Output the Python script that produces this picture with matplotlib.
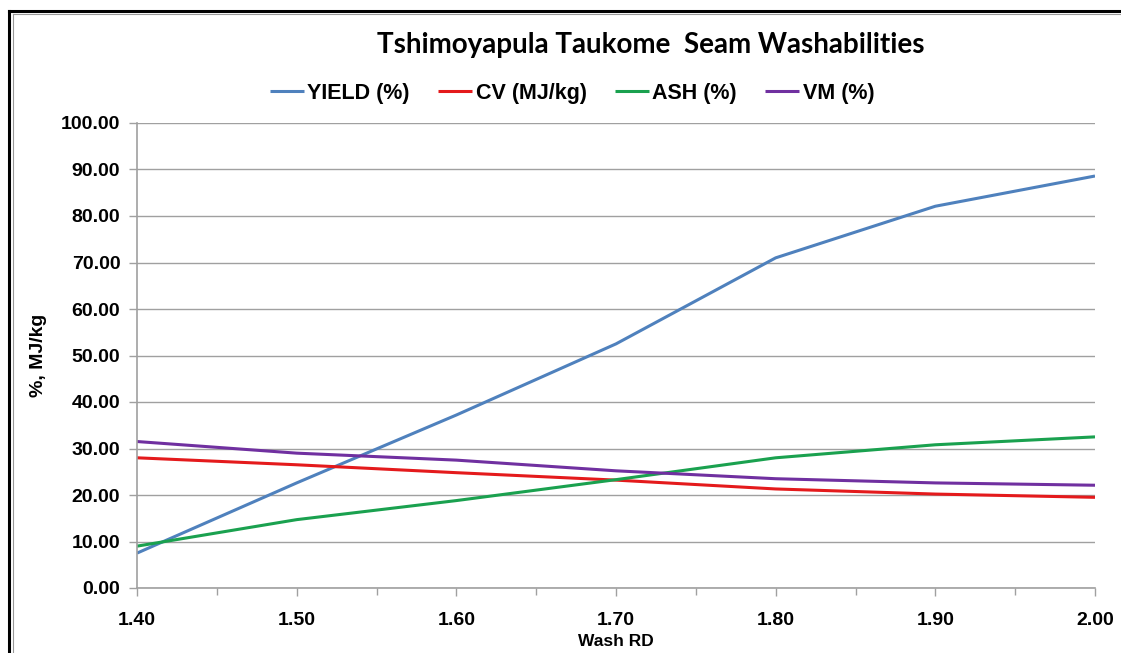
import matplotlib
matplotlib.use("Agg")
import matplotlib.pyplot as plt
from matplotlib.lines import Line2D
from matplotlib.ticker import MultipleLocator, FormatStrFormatter

wash_rd = [1.40, 1.50, 1.60, 1.70, 1.80, 1.90, 2.00]
yield_pct = [7.5, 22.6, 37.2, 52.5, 71.0, 82.1, 88.6]
cv_mjkg = [28.0, 26.5, 24.8, 23.2, 21.3, 20.2, 19.5]
ash_pct = [9.0, 14.7, 18.8, 23.3, 28.0, 30.8, 32.5]
vm_pct = [31.5, 29.0, 27.5, 25.2, 23.5, 22.6, 22.1]

series = [
    ("YIELD (%)", yield_pct, "#4f81bd"),
    ("CV (MJ/kg)", cv_mjkg, "#e41a1c"),
    ("ASH (%)", ash_pct, "#1aa14f"),
    ("VM (%)", vm_pct, "#7030a0"),
]

W, H = 1121, 653
fig = plt.figure(figsize=(W / 100, H / 100), dpi=100)
fig.patch.set_facecolor("white")

# outer frame of the pasted chart
fig.add_artist(Line2D([9 / W, 9 / W], [0, 1 - 11 / H], color="black", lw=2.2, transform=fig.transFigure))
fig.add_artist(Line2D([9 / W, 1], [1 - 11 / H, 1 - 11 / H], color="black", lw=2.2, transform=fig.transFigure))
fig.add_artist(Line2D([12.5 / W, 12.5 / W], [0, 1 - 14 / H], color="#999999", lw=0.8, transform=fig.transFigure))
fig.add_artist(Line2D([12.5 / W, 1], [1 - 14 / H, 1 - 14 / H], color="#999999", lw=0.8, transform=fig.transFigure))

ax = fig.add_axes([137 / W, 1 - 588 / H, (1095 - 137) / W, (588 - 123) / H])

for name, vals, col in series:
    ax.plot(wash_rd, vals, color=col, lw=2.2, label=name, solid_capstyle="butt")

ax.set_xlim(1.40, 2.00)
ax.set_ylim(0, 100)
ax.xaxis.set_major_locator(MultipleLocator(0.1))
ax.xaxis.set_minor_locator(MultipleLocator(0.05))
ax.yaxis.set_major_locator(MultipleLocator(10))
ax.xaxis.set_major_formatter(FormatStrFormatter("%.2f"))
ax.yaxis.set_major_formatter(FormatStrFormatter("%.2f"))

ax.grid(axis="y", color="#a0a0a0", lw=1.0)
ax.set_axisbelow(True)
for side in ["top", "right"]:
    ax.spines[side].set_visible(False)
for side in ["left", "bottom"]:
    ax.spines[side].set_color("#a0a0a0")
    ax.spines[side].set_linewidth(1.2)

arial = ["Liberation Sans", "DejaVu Sans"]
ax.tick_params(axis="both", which="both", color="#a0a0a0", width=1.0)
ax.tick_params(axis="y", length=6, pad=6)
ax.tick_params(axis="x", which="major", length=6, pad=11)
ax.tick_params(axis="x", which="minor", length=5)
for lab in ax.get_xticklabels() + ax.get_yticklabels():
    lab.set_fontfamily(arial)
    lab.set_fontweight("bold")
    lab.set_fontsize(14)

ax.set_xlabel("Wash RD", fontsize=12.5, labelpad=4, family=arial, weight="bold")
ax.set_ylabel("%, MJ/kg", fontsize=14, labelpad=10, family=arial, weight="bold")

fig.text(651 / W, 1 - 45 / H, "Tshimoyapula Taukome  Seam Washabilities",
         ha="center", va="center", fontsize=20, weight="bold",
         family=["Lato", "Open Sans", "DejaVu Sans"])

leg = fig.legend(loc="center", bbox_to_anchor=(572 / W, 1 - 93 / H), ncol=4,
                 frameon=False, handlelength=1.6, handletextpad=0.15, columnspacing=1.3,
                 prop=dict(family=arial, weight="bold", size=15.5))

fig.savefig("out.png", dpi=100)
